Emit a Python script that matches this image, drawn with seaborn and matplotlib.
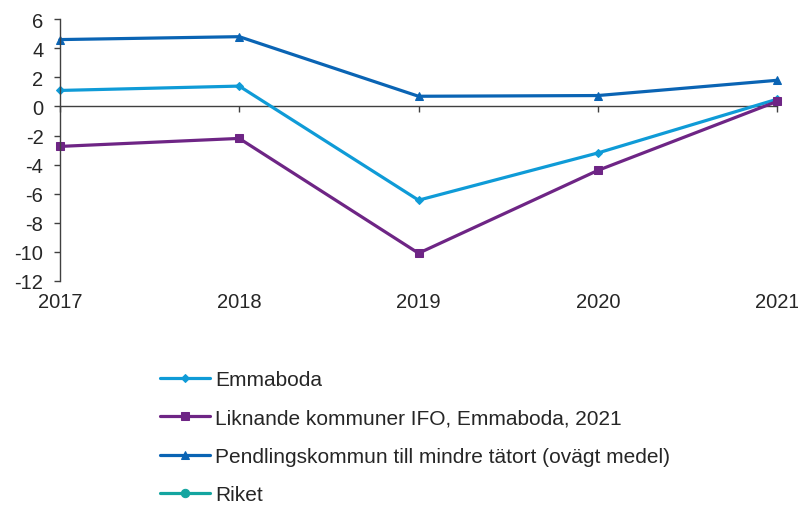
import numpy as np
import pandas as pd
import matplotlib
matplotlib.use("Agg")
import matplotlib.pyplot as plt
import seaborn as sns

years = [2017, 2018, 2019, 2020, 2021]
series_names = [
    "Emmaboda",
    "Liknande kommuner IFO, Emmaboda, 2021",
    "Pendlingskommun till mindre tätort (ovägt medel)",
    "Riket",
]
emmaboda = [1.1, 1.4, -6.45, -3.2, 0.5]
liknande = [-2.75, -2.2, -10.1, -4.4, 0.35]
pendling = [4.6, 4.8, 0.7, 0.75, 1.8]
riket = [np.nan, np.nan, np.nan, np.nan, np.nan]
yticks = list(range(-12, 7, 2))

colors = ["#0F9BD7", "#6E2585", "#0A64B4", "#14A5A0"]
markers = ["D", "s", "^", "o"]
msizes = [4, 6, 6, 6]

sns.set_theme(style="white")
plt.rcParams["font.family"] = ["Liberation Sans", "DejaVu Sans"]

rows = []
for name, vals in zip(series_names, [emmaboda, liknande, pendling, riket]):
    for yr, v in zip(years, vals):
        rows.append({"year": yr, "value": v, "series": name})
df = pd.DataFrame(rows)

fig = plt.figure(figsize=(7.98, 5.06), dpi=100)
ax = fig.add_axes([0.075, 0.443, 0.899, 0.517])

for name, col, mk, ms in zip(series_names, colors, markers, msizes):
    sub = df[df["series"] == name]
    sns.lineplot(data=sub, x="year", y="value", ax=ax, color=col, marker=mk,
                 markersize=ms, markeredgecolor=col, linewidth=2.3, label=name,
                 clip_on=False)

ax.set_xlim(years[0], years[-1])
ax.set_ylim(-12, 6)
ax.set_yticks(yticks)
ax.set_yticklabels([str(t) for t in yticks], fontsize=14.5)
ax.set_xlabel("")
ax.set_ylabel("")

for s in ["top", "right"]:
    ax.spines[s].set_visible(False)
ax.spines["left"].set_color("#404040")
ax.spines["left"].set_linewidth(1)
ax.spines["bottom"].set_position(("data", 0))
ax.spines["bottom"].set_color("#404040")
ax.spines["bottom"].set_linewidth(1)
ax.spines["bottom"].set_zorder(0.5)
ax.tick_params(axis="y", direction="out", length=4.3, width=1, color="#404040", pad=7.5, left=True)
ax.set_xticks(years)
ax.tick_params(axis="x", direction="out", length=4.3, width=1, color="#404040", bottom=True, labelbottom=False)

sec = ax.secondary_xaxis("bottom")
sec.set_xticks(years)
sec.set_xticklabels([str(y) for y in years], fontsize=14.5)
sec.spines["bottom"].set_visible(False)
sec.tick_params(axis="x", length=0, pad=8)

ax.legend_.remove()
handles, labels = ax.get_legend_handles_labels()
fig.legend(handles, labels, loc="upper left", bbox_to_anchor=(0.19, 0.283),
           frameon=False, fontsize=15, handlelength=2.4, handletextpad=0.25,
           labelspacing=0.93, borderaxespad=0)

fig.savefig("out.png", dpi=100)
